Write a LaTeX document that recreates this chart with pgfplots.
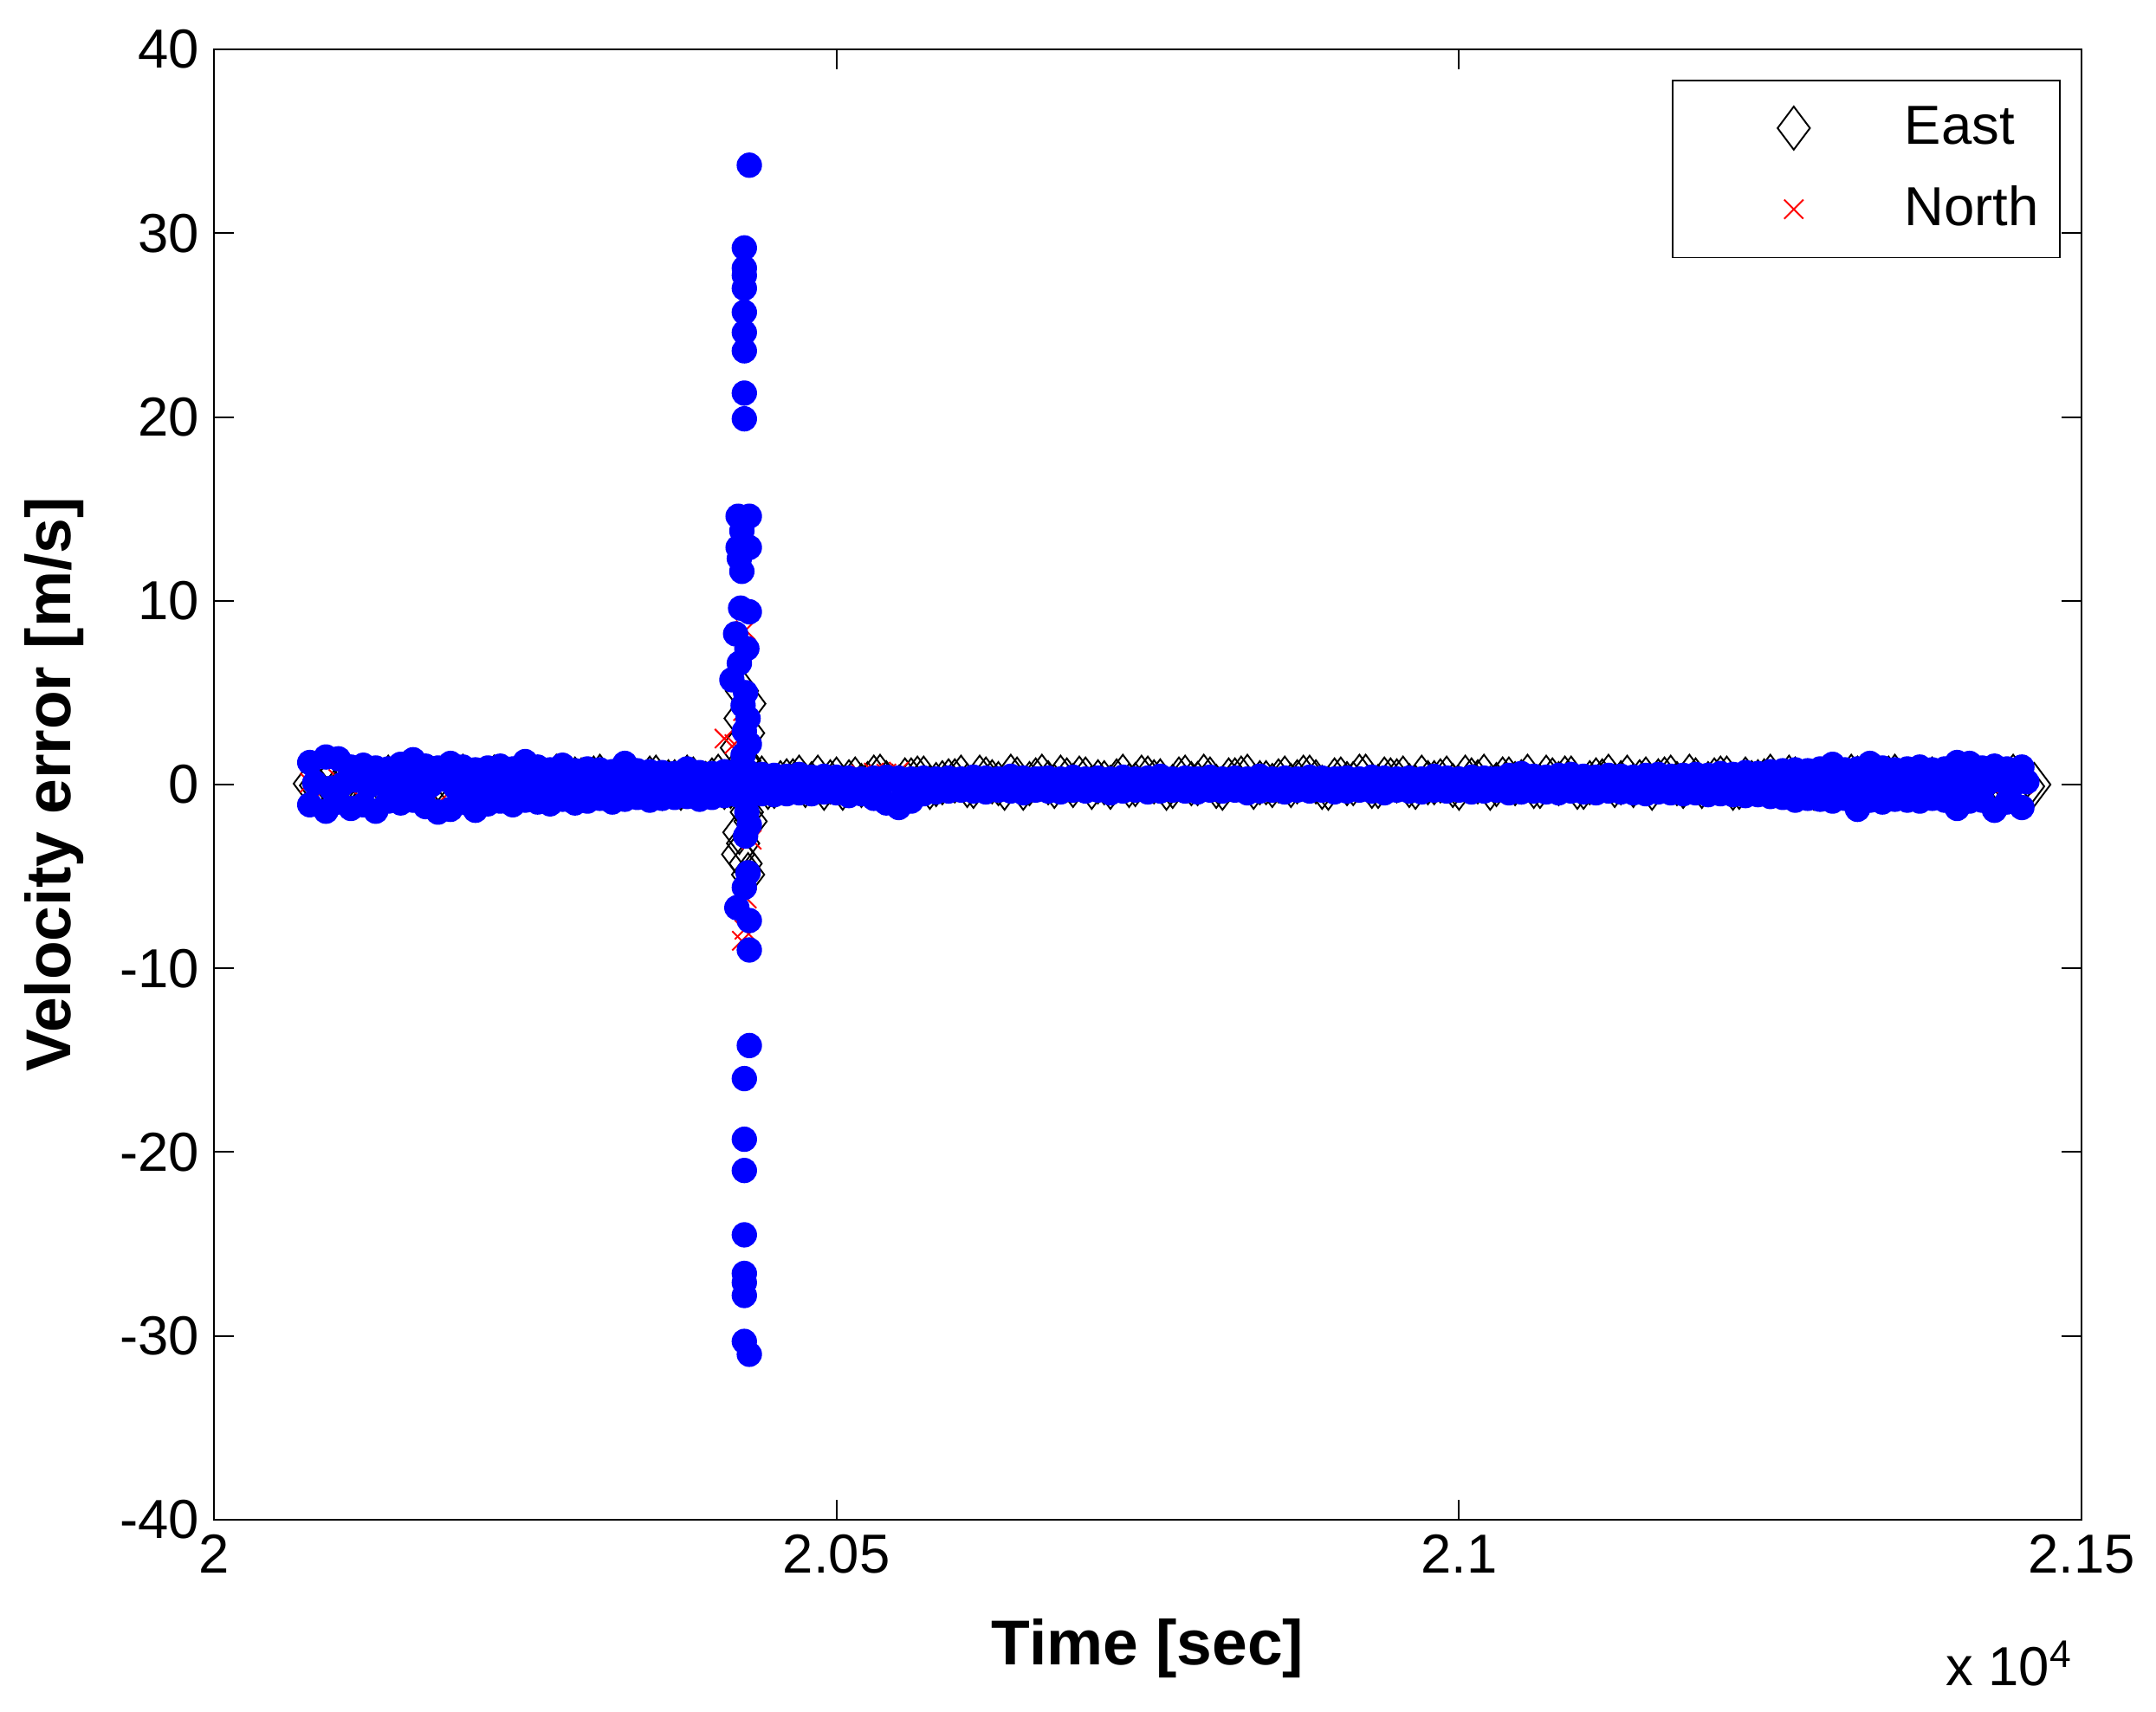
\documentclass[border=0pt]{standalone}
\usepackage{pgfplots}
\usepackage{pgfplotstable}
\usepackage{fontspec}
\setmainfont{Liberation Sans}
\pgfplotsset{compat=1.18}

% band of samples: time, east, north, up (three rows of the up series), second east row
\pgfplotstableread{
t e n u1 u2 u3 e2
20077 0.05 0.10 1.20 -1.10 0.10 -0.05
20090 0.20 -0.15 1.50 -1.45 -0.20 0.40
20100 -0.10 0.30 1.40 -0.95 0.05 0.15
20110 0.35 -0.20 0.95 -1.30 0.25 -0.20
20120 0.10 0.25 1.05 -1.10 -0.10 0.30
20130 -0.20 -0.30 0.90 -1.45 0.15 0.05
20140 0.40 0.15 0.85 -0.90 -0.25 0.45
20150 0.05 -0.10 1.10 -1.00 0.00 -0.10
20160 0.25 0.35 1.35 -0.85 0.20 0.25
20170 -0.15 -0.25 1.00 -1.20 -0.05 0.35
20180 0.30 0.20 0.90 -1.50 0.30 -0.15
20190 0.00 -0.35 1.15 -1.35 -0.15 0.10
20200 0.45 0.10 0.95 -0.95 0.10 0.20
20210 -0.05 -0.20 0.80 -1.40 -0.20 -0.05
20220 0.20 0.40 0.90 -1.05 0.05 0.40
20230 0.35 -0.05 1.00 -0.90 0.25 0.15
20240 -0.20 0.25 0.85 -1.10 -0.10 -0.20
20250 0.15 -0.30 1.25 -0.85 0.15 0.30
20260 0.40 0.05 0.95 -0.95 -0.25 0.05
20270 0.00 0.30 0.80 -1.05 0.00 0.45
20280 -0.15 -0.15 1.05 -0.80 0.20 -0.10
20290 0.30 0.20 0.75 -1.00 -0.05 0.25
20300 0.10 -0.25 0.85 -0.90 0.30 0.35
20310 0.45 0.35 0.80 -0.75 -0.15 -0.15
20320 -0.10 -0.05 0.70 -0.95 0.10 0.10
20330 0.25 0.15 1.15 -0.80 -0.20 0.20
20340 0.05 -0.30 0.75 -0.70 0.05 -0.05
20350 0.35 0.25 0.70 -0.85 0.25 0.40
20360 -0.20 0.00 0.65 -0.75 -0.10 0.15
20370 0.15 -0.20 0.60 -0.70 0.15 -0.20
20380 0.40 0.30 0.85 -0.65 -0.25 0.30
20390 0.00 -0.10 0.65 -0.80 0.00 0.05
20400 0.25 0.20 0.60 -0.70 0.20 0.45
20410 -0.15 -0.25 0.70 -0.60 -0.05 -0.10
20420 0.30 0.10 0.75 -0.55 0.30 0.25
20430 0.10 -0.35 0.65 -0.60 -0.15 0.35
20440 0.35 0.25 0.55 -0.50 0.10 -0.15
20450 -0.10 -0.05 0.50 -0.55 -0.20 0.10
20460 0.20 0.30 0.45 -0.50 0.05 0.20
20470 0.40 -0.20 0.55 -0.45 0.25 -0.05
20480 0.05 0.15 0.40 -0.50 -0.10 0.40
20490 -0.20 -0.30 0.45 -0.40 0.15 0.15
20500 0.30 0.05 0.40 -0.45 -0.25 -0.20
20510 0.15 0.35 0.35 -0.60 0.00 0.30
20520 -0.05 0.55 0.30 -0.50 0.20 0.05
20530 0.40 0.65 0.35 -0.75 -0.05 0.45
20540 0.10 0.60 0.40 -1.00 0.30 -0.10
20550 -0.15 0.70 0.35 -1.25 -0.15 0.25
20560 0.25 0.10 0.30 -0.90 0.10 0.35
20570 0.35 -0.25 0.35 -0.50 -0.20 -0.15
20580 0.00 0.20 0.30 -0.40 0.05 0.10
20590 0.20 -0.10 0.35 -0.35 0.25 0.20
20600 0.40 0.30 0.30 -0.30 -0.10 -0.05
20610 -0.10 -0.20 0.40 -0.35 0.15 0.40
20620 0.30 0.15 0.35 -0.40 -0.25 0.15
20630 0.05 -0.30 0.30 -0.30 0.00 -0.20
20640 0.45 0.25 0.45 -0.35 0.20 0.30
20650 -0.20 0.00 0.35 -0.45 -0.05 0.05
20660 0.25 0.35 0.30 -0.30 0.30 0.45
20670 0.10 -0.15 0.35 -0.35 -0.15 -0.10
20680 0.40 0.20 0.30 -0.40 0.10 0.25
20690 -0.05 -0.25 0.40 -0.30 -0.20 0.35
20700 0.30 0.10 0.30 -0.35 0.05 -0.15
20710 0.15 0.30 0.35 -0.30 0.25 0.10
20720 -0.15 -0.05 0.30 -0.45 -0.10 0.20
20730 0.45 0.25 0.40 -0.35 0.15 -0.05
20740 0.00 -0.30 0.30 -0.30 -0.25 0.40
20750 0.35 0.15 0.35 -0.40 0.00 0.15
20760 0.20 0.40 0.45 -0.35 0.20 -0.20
20770 -0.10 -0.10 0.30 -0.30 -0.05 0.30
20780 0.40 0.20 0.35 -0.35 0.30 0.05
20790 0.05 -0.20 0.30 -0.40 -0.15 0.45
20800 0.30 0.35 0.40 -0.30 0.10 -0.10
20810 -0.20 0.05 0.30 -0.35 -0.20 0.25
20820 0.25 -0.25 0.35 -0.30 0.05 0.35
20830 0.45 0.30 0.30 -0.45 0.25 -0.15
20840 0.10 -0.05 0.45 -0.35 -0.10 0.10
20850 -0.05 0.25 0.30 -0.30 0.15 0.20
20860 0.35 -0.30 0.35 -0.40 -0.25 -0.05
20870 0.15 0.10 0.30 -0.30 0.00 0.40
20880 0.40 0.35 0.40 -0.35 0.20 0.15
20890 -0.15 -0.15 0.35 -0.30 -0.05 -0.20
20900 0.25 0.20 0.30 -0.40 0.30 0.30
20910 0.05 -0.25 0.35 -0.35 -0.15 0.05
20920 0.45 0.30 0.30 -0.30 0.10 0.45
20930 -0.10 0.00 0.40 -0.35 -0.20 -0.10
20940 0.30 0.25 0.35 -0.45 0.05 0.25
20950 0.20 -0.20 0.30 -0.30 0.25 0.35
20960 -0.05 0.40 0.35 -0.35 -0.10 -0.15
20970 0.40 0.05 0.30 -0.40 0.15 0.10
20980 0.10 -0.30 0.45 -0.30 -0.25 0.20
20990 0.35 0.20 0.35 -0.35 0.00 -0.05
21000 -0.20 0.30 0.30 -0.30 0.20 0.40
21010 0.25 -0.10 0.40 -0.40 -0.05 0.15
21020 0.45 0.15 0.35 -0.35 0.30 -0.20
21030 0.00 -0.25 0.30 -0.30 -0.15 0.30
21040 0.30 0.35 0.50 -0.45 0.10 0.05
21050 0.15 0.00 0.60 -0.40 -0.20 0.45
21060 -0.10 0.25 0.45 -0.35 0.05 -0.10
21070 0.40 -0.20 0.40 -0.40 0.25 0.25
21080 0.05 0.30 0.50 -0.45 -0.10 0.35
21090 0.35 -0.05 0.55 -0.35 0.15 -0.15
21100 -0.15 0.20 0.45 -0.40 -0.25 0.10
21110 0.25 -0.30 0.40 -0.45 0.00 0.20
21120 0.45 0.35 0.50 -0.35 0.20 -0.05
21130 0.10 0.05 0.45 -0.40 -0.05 0.40
21140 -0.05 -0.20 0.40 -0.45 0.30 0.15
21150 0.30 0.25 0.50 -0.50 -0.15 -0.20
21160 0.20 -0.15 0.55 -0.40 0.10 0.30
21170 0.40 0.30 0.45 -0.45 -0.20 0.05
21180 -0.10 0.00 0.50 -0.50 0.05 0.45
21190 0.25 -0.25 0.55 -0.45 0.25 -0.10
21200 0.05 0.35 0.50 -0.55 -0.10 0.25
21210 0.35 0.10 0.60 -0.50 0.15 0.35
21220 -0.20 -0.10 0.55 -0.55 -0.25 -0.15
21230 0.30 0.25 0.65 -0.60 0.00 0.10
21240 0.15 -0.30 0.60 -0.55 0.20 0.20
21250 0.45 0.20 0.70 -0.65 -0.05 -0.05
21260 0.00 0.05 0.75 -0.70 0.30 0.40
21270 0.30 -0.20 0.80 -0.85 -0.15 0.15
21280 -0.15 0.30 0.75 -0.75 0.10 -0.20
21290 0.25 0.10 0.85 -0.80 -0.20 0.30
21300 0.40 -0.25 1.10 -0.90 0.05 0.05
21310 0.05 0.35 0.80 -0.75 0.25 0.45
21320 0.35 0.00 0.85 -1.35 -0.10 -0.10
21330 -0.10 -0.15 1.15 -0.85 0.15 0.25
21340 0.20 0.25 0.90 -0.95 -0.25 0.35
21350 0.45 -0.30 0.80 -0.80 0.00 -0.15
21360 0.10 0.20 0.85 -0.85 0.20 0.10
21370 -0.20 0.05 0.95 -0.90 -0.05 0.20
21380 0.30 -0.10 0.80 -0.75 0.30 -0.05
21390 0.15 0.30 0.85 -0.85 -0.15 0.40
21400 0.40 -0.20 1.20 -1.30 0.10 0.15
21410 -0.05 0.15 1.15 -0.90 -0.20 -0.20
21420 0.25 0.35 0.90 -0.85 0.05 0.30
21430 0.35 -0.25 1.00 -1.40 0.25 0.05
21440 0.00 0.10 0.85 -0.95 -0.10 0.45
21452 0.10 0.00 0.95 -1.25 0.15 -0.10
}\band

\begin{document}
\begin{tikzpicture}
\begin{axis}[
    name=ax,
    scale only axis,
    width=441.8pt, height=347.9pt,
    xmin=20000, xmax=21500,
    ymin=-40, ymax=40,
    xtick={20000,20500,21000,21500},
    xticklabels={2,2.05,2.1,2.15},
    scaled x ticks=false,
    ytick={-40,-30,-20,-10,0,10,20,30,40},
    yticklabels={-40,-30,-20,-10,0,10,20,30,40},
    tick align=inside,
    major tick length=4.7pt,
    minor tick num=0,
    tick style={black, line width=0.4pt},
    axis line style={line width=0.4pt},
    tick label style={font=\fontsize{13}{15}\selectfont},
    xlabel={Time [sec]},
    ylabel={Velocity error [m/s]},
    label style={font=\bfseries\fontsize{15}{18}\selectfont},
    x label style={at={(axis description cs:0.5,0)}, anchor=base, yshift=-34.4pt},
    y label style={at={(axis description cs:-0.0853,0.5)}, anchor=center},
    clip=false,
    legend image code/.code={\path (0pt,0pt) (47pt,0pt); \draw[#1] plot coordinates {(23.5pt,0pt)};},
    legend style={
        at={(1,1)}, anchor=north east, xshift=-4.9pt, yshift=-7.2pt,
        draw=black, line width=0.4pt,
        inner xsep=5pt, inner ysep=6pt,
        row sep=8.5pt, column sep=2.5pt,
        font=\fontsize{13}{15}\selectfont,
        cells={anchor=west},
        nodes={inner sep=0pt},
    },
]
% East
\addplot[only marks, black, mark=diamond, mark size=5.1pt,
    mark options={line width=0.4pt}]
    table[x=t, y=e] {\band};
\addplot[only marks, black, mark=diamond, mark size=5.1pt,
    mark options={line width=0.4pt}, forget plot]
    table[x expr=\thisrow{t}+5, y=e2] {\band};
\addplot[only marks, black, mark=diamond, mark size=5.1pt,
    mark options={line width=0.4pt}, forget plot] coordinates {
    (20424,5.1) (20430,4.4) (20423,3.6) (20429,2.8) (20420,2.0) (20426,1.3)
    (20428,-1.5) (20422,-2.6) (20425,-3.2) (20421,-3.8) (20427,-4.3)
    (20429,-4.9) (20431,-2.0) (21462,0.0)
};
% North
\addplot[only marks, red, mark=x, mark size=3.2pt,
    mark options={line width=0.4pt}]
    table[x=t, y=n] {\band};
\addplot[only marks, red, mark=x, mark size=3.2pt,
    mark options={line width=0.4pt}, forget plot] coordinates {
    (20427,8.4) (20418,2.2) (20410,2.5) (20425,4.0) (20432,-3.0)
    (20428,-6.2) (20426,-7.9) (20424,-8.5)
};
% third series (blue dots), not in the legend
\addplot[only marks, mark=*, mark size=2.8pt, color={rgb,255:red,0;green,0;blue,255},
    forget plot] table[x=t, y=u1] {\band};
\addplot[only marks, mark=*, mark size=2.8pt, color={rgb,255:red,0;green,0;blue,255},
    forget plot] table[x=t, y=u2] {\band};
\addplot[only marks, mark=*, mark size=2.8pt, color={rgb,255:red,0;green,0;blue,255},
    forget plot] table[x expr=\thisrow{t}+4, y=u3] {\band};
\addplot[only marks, mark=*, mark size=2.8pt, color={rgb,255:red,0;green,0;blue,255},
    forget plot] coordinates {
    (20430,33.7) (20426,29.2) (20426,28.1) (20426,27.7) (20426,27.0)
    (20426,25.7) (20426,24.6) (20426,23.6) (20426,21.3) (20426,19.9)
    (20421,14.6) (20430,14.6) (20424,13.8) (20421,12.9) (20430,12.9)
    (20422,12.3) (20424,11.6) (20423,9.6) (20430,9.4) (20419,8.2)
    (20428,7.4) (20422,6.6) (20416,5.7) (20427,5.0) (20425,4.3)
    (20429,3.6) (20426,2.9) (20430,2.2) (20425,1.6)
    (20428,-1.5) (20430,-2.2) (20427,-2.8) (20429,-4.8) (20426,-5.6)
    (20420,-6.7) (20430,-7.4) (20430,-9.0) (20430,-14.2) (20426,-16.0)
    (20426,-19.3) (20426,-21.0) (20426,-24.5) (20426,-26.6) (20426,-27.1)
    (20426,-27.8) (20426,-30.3) (20430,-31.0)
};
\legend{East, North}
\node[anchor=base east, font=\fontsize{13}{15}\selectfont, yshift=-39.3pt, xshift=1.5pt]
    at (rel axis cs:1,0) {x 10\textsuperscript{4}};
\end{axis}
\path (ax.south west) ++(-50.6pt,-45.5pt);
\path (ax.north east) ++(17.6pt,11.7pt);
\end{tikzpicture}
\end{document}
